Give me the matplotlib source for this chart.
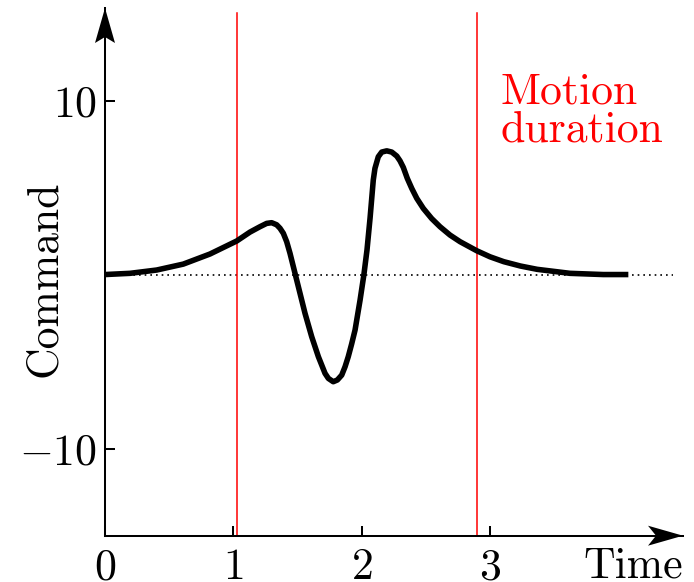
import numpy as np
import matplotlib
matplotlib.use("Agg")
import matplotlib.pyplot as plt
from matplotlib.patches import Polygon

plt.rcParams['font.family'] = 'cmr10'
plt.rcParams['mathtext.fontset'] = 'cm'
plt.rcParams['axes.formatter.use_mathtext'] = True

# command signal (time, command)
time = [0.000, 0.195, 0.403, 0.610, 0.818, 1.027, 1.130, 1.208, 1.260, 1.299,
        1.338, 1.364, 1.390, 1.416, 1.442, 1.481, 1.520, 1.559, 1.611, 1.663,
        1.715, 1.741, 1.779, 1.811, 1.845, 1.871, 1.896, 1.922, 1.949, 1.988,
        2.018, 2.042, 2.066, 2.091, 2.104, 2.130, 2.157, 2.196, 2.235, 2.274,
        2.299, 2.325, 2.356, 2.391, 2.430, 2.481, 2.546, 2.611, 2.689, 2.767,
        2.897, 3.001, 3.108, 3.238, 3.368, 3.624, 3.884, 4.079]
command = [0.00, 0.07, 0.26, 0.60, 1.18, 1.93, 2.44, 2.75, 2.94, 2.98,
           2.86, 2.66, 2.37, 1.89, 1.22, 0.07, -1.08, -2.23, -3.57, -4.72,
           -5.68, -5.97, -6.16, -6.06, -5.78, -5.30, -4.72, -4.00, -3.19, -1.47,
           0.00, 1.41, 3.25, 5.43, 6.10, 6.77, 7.04, 7.11, 7.04, 6.81,
           6.54, 6.16, 5.53, 4.95, 4.38, 3.80, 3.22, 2.75, 2.27, 1.89,
           1.37, 1.02, 0.74, 0.49, 0.30, 0.07, 0.00, 0.00]

# debut / fin du mouvement
motion_bounds = [1.031, 2.899]

xticks = [0, 1, 2, 3]
xtick_labels = ['$0$', '$1$', '$2$', '$3$']
yticks = [-10, 10]
ytick_labels = ['$-10$', '$10$']

W, H = 694, 582
fig = plt.figure(figsize=(W / 100, H / 100), dpi=100)

# axes box in pixels: left 105, bottom 535.7, right 683, top 8
x0, yb, x1, yt = 105, 535.7, 683, 8
ax = fig.add_axes([x0 / W, (H - yb) / H, (x1 - x0) / W, (yb - yt) / H])
ax.set_xlim(0, 4.505)
ax.set_ylim(-15.01, 15.32)

for s in ['top', 'right']:
    ax.spines[s].set_visible(False)
for s in ['left', 'bottom']:
    ax.spines[s].set_linewidth(1.45)

ax.set_xticks(xticks)
ax.set_xticklabels(xtick_labels)
ax.set_yticks(yticks)
ax.set_yticklabels(ytick_labels)
ax.tick_params(direction='in', length=7.2, width=1.45, labelsize=31.5)
ax.tick_params(axis='x', pad=9)
ax.tick_params(axis='y', pad=6)

# ligne zero en pointillés
ax.plot([0, 4.427], [0, 0], color='black', lw=1.2, dashes=(1, 2.4))

# bornes du mouvement
for xb in motion_bounds:
    ax.plot([xb, xb], [-15.01, 15.03], color='red', lw=1.1)

# la commande
ax.plot(time, command, color='black', lw=4.0, solid_joinstyle='round',
        solid_capstyle='butt')

ax.text(3.084, 11.6, 'Motion\nduration', color='red', fontsize=31.5,
        ha='left', va='top', linespacing=0.92)

# fleches des axes (en pixels)
def px(x, y):
    return (x / W, (H - y) / H)

head_y = [px(105, 8), px(95, 43), px(105, 37), px(115, 43)]
head_x = [px(683, 535.7), px(648, 525.7), px(656, 535.7), px(648, 545.7)]
for head in [head_y, head_x]:
    fig.patches.append(Polygon(head, closed=True, color='black',
                               transform=fig.transFigure, lw=0))

fig.text(683 / W, 1 - 577 / H, 'Time', fontsize=31.5, ha='right',
         va='baseline')
fig.text(45 / W, 1 - 279 / H, 'Command', fontsize=31.5, rotation=90,
         ha='center', va='center')

fig.savefig('out.png', dpi=100)
